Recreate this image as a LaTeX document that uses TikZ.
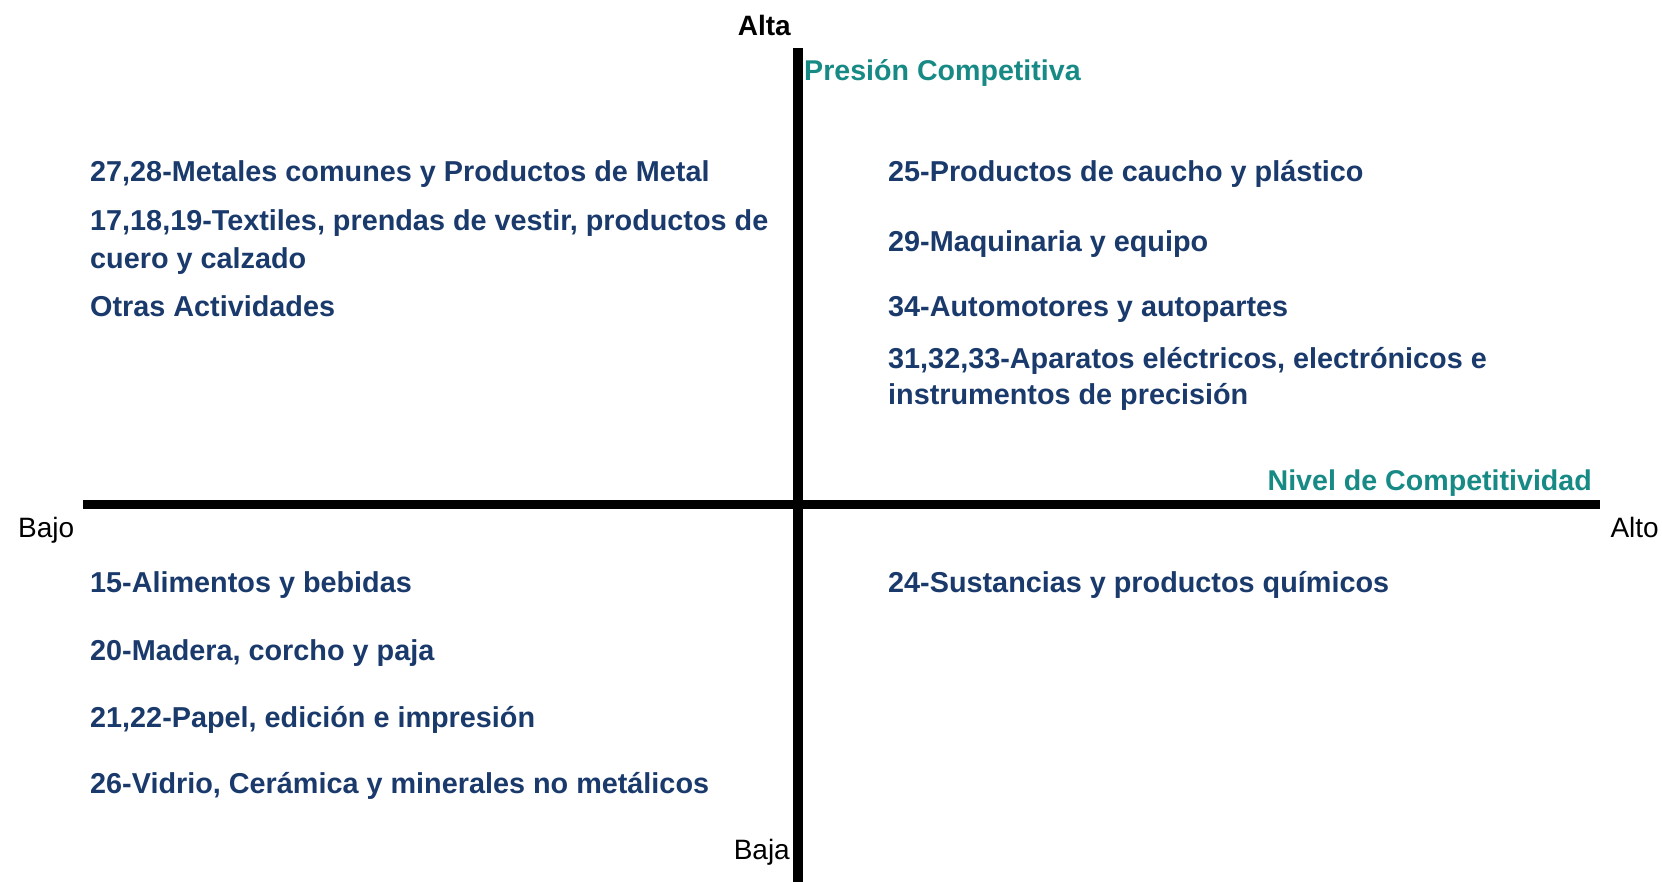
\documentclass[tikz,border=0pt]{standalone}
\usepackage{fontspec}
\setmainfont{Liberation Sans}
\definecolor{navy}{HTML}{1A3A6C}
\definecolor{teal2}{HTML}{178A85}
\begin{document}
\begin{tikzpicture}[x=1pt,y=-1pt,
  item/.style={anchor=base west,inner sep=0pt,text=navy,font=\fontsize{28.8}{33}\selectfont\bfseries,align=left},
  axlab/.style={inner sep=0pt,text=black,font=\fontsize{28}{33}\selectfont},
  axtitle/.style={inner sep=0pt,text=teal2,font=\fontsize{28.6}{33}\selectfont\bfseries},
  axis/.style={line width=10pt,black}]
\useasboundingbox (0,0) rectangle (1662,882);
\coordinate (vtop) at (797.5,48);
\coordinate (vbot) at (797.5,882);
\coordinate (hl) at (83,504);
\coordinate (hr) at (1600,504);
\draw[axis] (vtop) -- (vbot);
\draw[axis,line width=9pt] (hl) -- (hr);
\node[axlab,anchor=base east,font=\fontsize{28}{33}\selectfont\bfseries] (alta) at (791,36) {Alta};
\node[axlab,anchor=base east] (baja) at (790,859) {Baja};
\node[axlab,anchor=base west] (bajo) at (18,537) {Bajo};
\node[axlab,anchor=base east] (alto) at (1659,537) {Alto};
\node[axtitle,anchor=base west] (pres) at (804,81) {Presión Competitiva};
\node[axtitle,anchor=base east] (nivel) at (1592,490) {Nivel de Competitividad};
\node[item] (l1) at (90,182) {27,28-Metales comunes y Productos de Metal};
\node[item] (l2) at (90,231) {17,18,19-Textiles, prendas de vestir, productos de};
\node[item] (l2b) at (90,269) {cuero y calzado};
\node[item] (l3) at (90,317) {Otras Actividades};
\node[item] (r1) at (888,182) {25-Productos de caucho y plástico};
\node[item] (r2) at (888,252) {29-Maquinaria y equipo};
\node[item] (r3) at (888,317) {34-Automotores y autopartes};
\node[item] (r4) at (888,368) {31,32,33-Aparatos eléctricos, electrónicos e};
\node[item] (r4b) at (888,404) {instrumentos de precisión};
\node[item] (b1) at (90,592) {15-Alimentos y bebidas};
\node[item] (b2) at (90,660) {20-Madera, corcho y paja};
\node[item] (b3) at (90,727) {21,22-Papel, edición e impresión};
\node[item] (b4) at (90,793) {26-Vidrio, Cerámica y minerales no metálicos};
\node[item] (br1) at (888,592) {24-Sustancias y productos químicos};
\end{tikzpicture}
\end{document}
